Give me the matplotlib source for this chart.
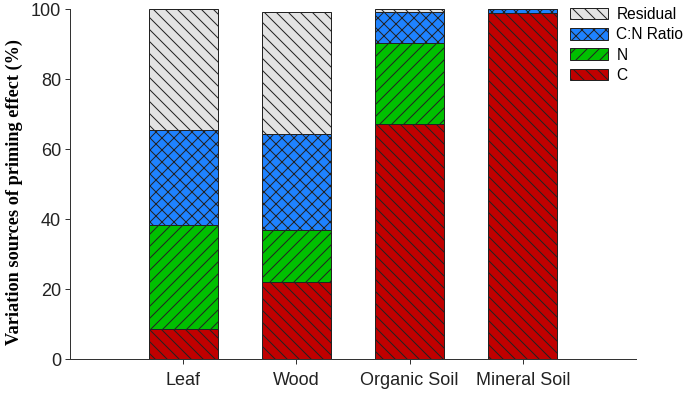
import matplotlib
matplotlib.use("Agg")
import matplotlib.pyplot as plt
import numpy as np

categories = ["Leaf", "Wood", "Organic Soil", "Mineral Soil"]
c_vals = [8.6, 22.0, 67.1, 99.0]
n_vals = [29.7, 14.9, 23.2, 0.0]
cn_vals = [27.1, 27.4, 8.8, 0.9]
resid_vals = [34.6, 34.8, 0.8, 0.1]

series = [
    ("C", c_vals, "#C00000", "\\\\"),
    ("N", n_vals, "#00C000", "//"),
    ("C:N Ratio", cn_vals, "#1E82FF", "xx"),
    ("Residual", resid_vals, "#E3E3E3", "\\\\"),
]

DPI = 72
plt.rcParams['hatch.linewidth'] = 1.0
fig = plt.figure(figsize=(685 / DPI, 400 / DPI), dpi=DPI)
ax = fig.add_axes([70 / 685, 1 - 359 / 400, (636 - 70) / 685, 350 / 400])

x = np.arange(1, len(categories) + 1)
bottom = np.zeros(len(categories))
handles = []
for label, vals, color, hatch in series:
    b = ax.bar(x, vals, width=0.61, bottom=bottom, color=color, hatch=hatch,
               edgecolor="#222222", linewidth=1.0, label=label)
    handles.append(b)
    bottom = bottom + np.array(vals)

ax.set_xlim(0, 5)
ax.set_ylim(0, 100)
ax.set_xticks(x)
ax.set_xticklabels(categories, fontsize=18, family="Liberation Sans")
ax.set_yticks([0, 20, 40, 60, 80, 100])
ax.set_yticklabels(["0", "20", "40", "60", "80", "100"], fontsize=18, family="Liberation Sans")
for sp in ["top", "right"]:
    ax.spines[sp].set_visible(False)
for sp in ["left", "bottom"]:
    ax.spines[sp].set_color("#333333")
    ax.spines[sp].set_linewidth(1.0)
ax.tick_params(axis="both", direction="out", length=5, width=1, color="#333333", labelcolor="#222222")
ax.tick_params(axis="x", pad=8)
ax.tick_params(axis="y", pad=4)
ax.set_ylabel("Variation sources of priming effect (%)", fontsize=18.3,
              family="Liberation Serif", fontweight="bold")
ax.yaxis.set_label_coords(-0.083, 0.477)

leg = fig.legend(handles[::-1], [s[0] for s in series][::-1], loc="upper left",
                 bbox_to_anchor=(570 / 685, 1 - 7 / 400), frameon=False,
                 prop={"family": "Liberation Sans", "size": 15.5},
                 handlelength=2.45, handleheight=0.78, labelspacing=0.34,
                 handletextpad=0.55, borderpad=0, borderaxespad=0)

fig.savefig("out.png", dpi=DPI)
